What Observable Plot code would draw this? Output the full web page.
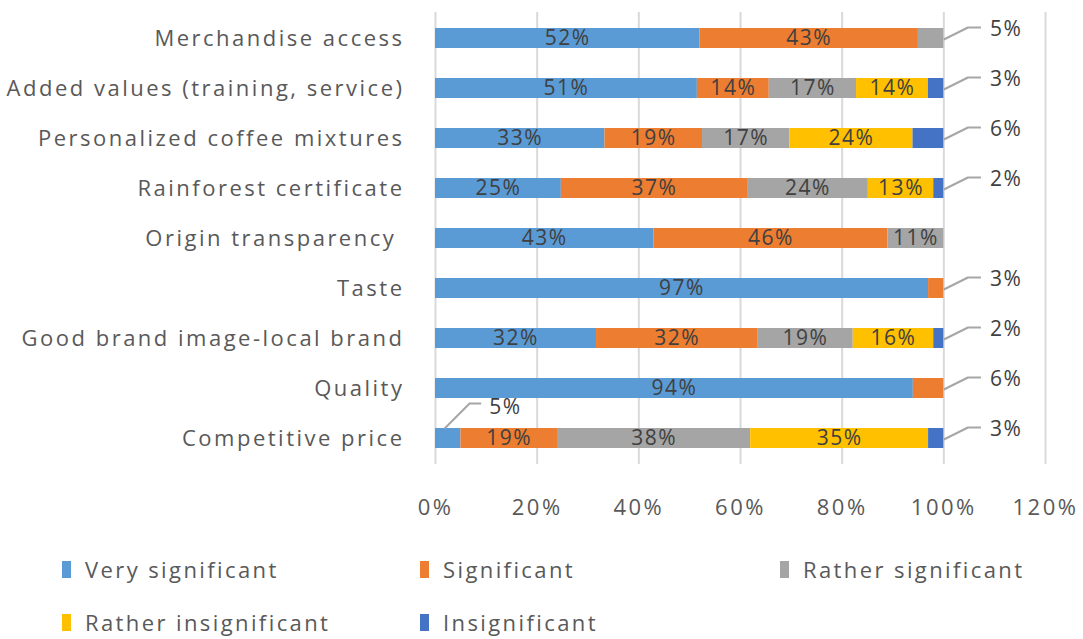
<!DOCTYPE html>
<html><head><meta charset="utf-8">
<script src="https://cdn.jsdelivr.net/npm/d3@7"></script>
<script src="https://cdn.jsdelivr.net/npm/@observablehq/plot@0.6"></script>
<style>
body{margin:0;background:#fff;font-family:"Open Sans",sans-serif;}
#legend{position:relative;height:109px;width:1083px;}
.item{position:absolute;display:flex;align-items:center;font-size:22px;color:#595959;line-height:26px;white-space:nowrap;letter-spacing:2.4px;}
.sw{width:9px;height:17px;margin-right:14px;}
#chart svg g[aria-label^="y-axis"] text{letter-spacing:2.5px;white-space:pre;}
#chart svg g[aria-label^="x-axis"] text{letter-spacing:2.5px;}
</style></head><body>
<div id="chart"></div>
<div id="legend"></div>
<script>
const categories = [
  "Merchandise access",
  "Added values (training, service)",
  "Personalized coffee mixtures",
  "Rainforest certificate",
  "Origin transparency ",
  "Taste",
  "Good brand image-local brand",
  "Quality",
  "Competitive price"
];
const series = ["Very significant", "Significant", "Rather significant", "Rather insignificant", "Insignificant"];
const colors = ["#5B9BD5", "#ED7D31", "#A5A5A5", "#FFC000", "#4472C4"];
const verySignificant     = [52, 51, 33, 25, 43, 97, 32, 94, 5];
const significant         = [43, 14, 19, 37, 46,  3, 32,  6, 19];
const ratherSignificant   = [ 5, 17, 17, 24, 11,  0, 19,  0, 38];
const ratherInsignificant = [ 0, 14, 24, 13,  0,  0, 16,  0, 35];
const insignificant       = [ 0,  3,  6,  2,  0,  0,  2,  0,  3];
const xTicks = [0, 0.2, 0.4, 0.6, 0.8, 1.0, 1.2];

const seriesValues = [verySignificant, significant, ratherSignificant, ratherInsignificant, insignificant];

// long table
const table = [];
categories.forEach((c, i) => {
  seriesValues.forEach((vals, s) => {
    if (vals[i] > 0) table.push({cat: c, series: series[s], value: vals[i]});
  });
});

// outside labels (small segments), positioned from normalized stack
const outside = [];
categories.forEach((c, i) => {
  const total = d3.sum(seriesValues, v => v[i]);
  let cum = 0;
  let lastIdx = -1;
  seriesValues.forEach((v, s) => { if (v[i] > 0) lastIdx = s; });
  seriesValues.forEach((v, s) => {
    const val = v[i];
    const start = cum / total;
    cum += val;
    if (val > 0 && val <= 6) {
      if (s === lastIdx) outside.push({cat: c, value: val, side: "right", x1: 1, x2: 1.073});
      else outside.push({cat: c, value: val, side: "above", x1: start + 0.018, x2: start + 0.09});
    }
  });
});

function makeElbow(startDy, endDy, frac) {
  return (context) => {
    let pts = [];
    return {
      areaStart() {}, areaEnd() {},
      lineStart() { pts = []; },
      point(x, y) { pts.push([+x, +y]); },
      lineEnd() {
        const [[x0, y0], [x1]] = pts;
        context.moveTo(x0, y0 + startDy);
        context.lineTo(x0 + (x1 - x0) * frac, y0 + endDy);
        context.lineTo(x1, y0 + endDy);
      }
    };
  };
}

const rightLabels = outside.filter(d => d.side === "right");
const aboveLabels = outside.filter(d => d.side === "above");

const chart = Plot.plot({
  width: 1083,
  height: 530,
  marginLeft: 435,
  marginRight: 38,
  marginTop: 12,
  marginBottom: 66,
  style: {fontFamily: "'Open Sans', sans-serif", fontSize: "22px", color: "#595959", background: "#fff", letterSpacing: "1.5px"},
  x: {domain: [0, 1.2], ticks: xTicks, tickFormat: d3.format(".0%"), tickSize: 0, tickPadding: 35, label: null},
  y: {domain: categories, paddingInner: 0.6, paddingOuter: 0.25, tickSize: 0, tickPadding: 31, label: null},
  color: {domain: series, range: colors},
  marks: [
    Plot.ruleX(xTicks, {stroke: "#d9d9d9", strokeWidth: 2}),
    Plot.barX(table, Plot.stackX({x: "value", y: "cat", fill: "series", z: "series", order: series, offset: "normalize"})),
    Plot.text(table, Plot.stackX({x: "value", y: "cat", z: "series", order: series, offset: "normalize",
      text: d => d.value > 6 ? d.value + "%" : null, fill: "#404040", fontSize: 21})),
    Plot.link(rightLabels, {x1: "x1", x2: "x2", y1: "cat", y2: "cat", stroke: "#a6a6a6", strokeWidth: 2, curve: makeElbow(1, -11, 0.65)}),
    Plot.text(rightLabels, {x: "x2", y: "cat", text: d => d.value + "%", textAnchor: "start", dx: 9, dy: -9, fill: "#404040", fontSize: 21}),
    Plot.link(aboveLabels, {x1: "x1", x2: "x2", y1: "cat", y2: "cat", stroke: "#a6a6a6", strokeWidth: 2, curve: makeElbow(-10, -35, 0.68)}),
    Plot.text(aboveLabels, {x: "x2", y: "cat", text: d => d.value + "%", textAnchor: "start", dx: 8, dy: -31, fill: "#404040", fontSize: 21})
  ]
});
document.getElementById("chart").appendChild(chart);

const legendPos = [[62, 26], [420, 26], [780, 26], [62, 79], [420, 79]];
const legend = document.getElementById("legend");
series.forEach((s, i) => {
  const it = document.createElement("div");
  it.className = "item";
  it.style.left = legendPos[i][0] + "px";
  it.style.top = legendPos[i][1] + "px";
  const sw = document.createElement("span");
  sw.className = "sw";
  sw.style.background = colors[i];
  const tx = document.createElement("span");
  tx.textContent = s;
  it.appendChild(sw);
  it.appendChild(tx);
  legend.appendChild(it);
});
</script>
</body></html>
